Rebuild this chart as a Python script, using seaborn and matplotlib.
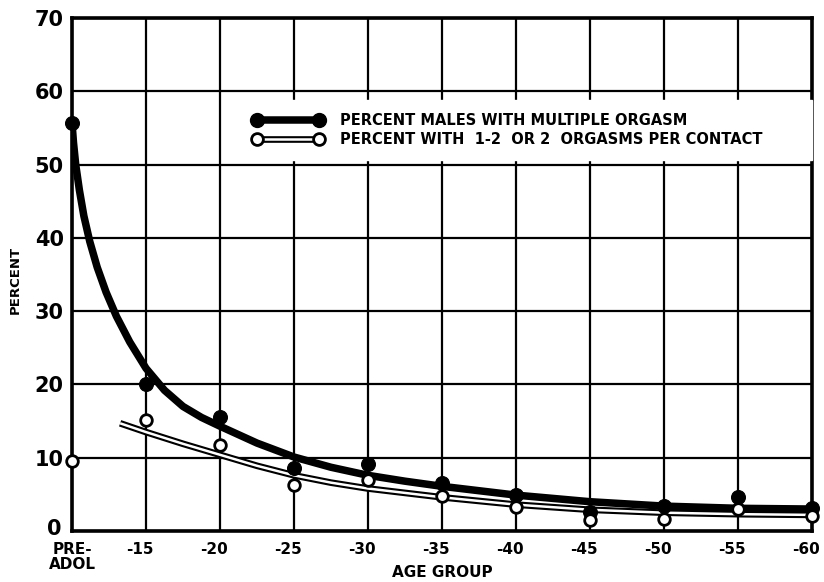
import matplotlib
matplotlib.use('Agg')
import matplotlib.pyplot as plt
import matplotlib.transforms as mtransforms
import seaborn as sns
import pandas as pd
from matplotlib.lines import Line2D
from matplotlib.legend_handler import HandlerTuple

# categories along the x axis
age_groups = ['PRE-\nADOL', '-15', '-20', '-25', '-30', '-35',
              '-40', '-45', '-50', '-55', '-60']

# plotted points
multiple_pct = [55.7, 20.0, 15.5, 8.6, 9.1, 6.6, 4.9, 2.6, 3.4, 4.6, 3.1]
one_two_pct = [9.5, 15.1, 11.7, 6.3, 7.0, 4.8, 3.3, 1.5, 1.7, 3.0, 2.0]

# hand drawn smoothing curves (position in age-group steps)
multiple_curve_x = [0, 0.02, 0.05, 0.1, 0.16, 0.24, 0.34, 0.46, 0.6, 0.78, 1.0,
                    1.25, 1.5, 1.75, 2.0, 2.5, 3.0, 3.5, 4.0, 4.5, 5, 6, 7, 8, 9, 10]
multiple_curve_y = [55.7, 53, 50, 46.5, 43, 39.5, 36, 32.6, 29.3, 25.8, 22.2,
                    19.2, 17.0, 15.5, 14.3, 12.0, 10.1, 8.7, 7.6, 6.8, 6.1,
                    4.9, 4.0, 3.4, 3.1, 3.0]
one_two_curve_x = [0.65, 1, 1.5, 2, 2.5, 3, 3.5, 4, 4.5, 5, 6, 7, 8, 9, 10]
one_two_curve_y = [14.7, 13.5, 11.9, 10.4, 8.9, 7.6, 6.6, 5.8, 5.2, 4.6, 3.6,
                   2.9, 2.5, 2.3, 2.2]

legend_labels = ['PERCENT MALES WITH MULTIPLE ORGASM',
                 'PERCENT WITH  1-2  OR 2  ORGASMS PER CONTACT']

sns.set_style('white')
plt.rcParams['font.family'] = ['DejaVu Sans']
plt.rcParams['font.weight'] = 'bold'
plt.rcParams['text.color'] = 'black'
plt.rcParams['axes.labelcolor'] = 'black'
plt.rcParams['xtick.color'] = 'black'
plt.rcParams['ytick.color'] = 'black'

points = pd.DataFrame({
    'pos': list(range(len(age_groups))),
    'multiple': multiple_pct,
    'one_two': one_two_pct,
})

fig = plt.figure(figsize=(8.24, 5.82), dpi=100)
ax = fig.add_axes([0.0874, 0.0876, 0.898, 0.8814])

# curves
sns.lineplot(x=multiple_curve_x, y=multiple_curve_y, sort=False, estimator=None,
             color='black', lw=5.4, ax=ax, zorder=3, solid_capstyle='round',
             solid_joinstyle='round')
sns.lineplot(x=one_two_curve_x, y=one_two_curve_y, sort=False, estimator=None,
             color='black', lw=4.8, ax=ax, zorder=3, solid_capstyle='butt',
             solid_joinstyle='round')
sns.lineplot(x=one_two_curve_x, y=one_two_curve_y, sort=False, estimator=None,
             color='white', lw=1.8, ax=ax, zorder=3.1, solid_capstyle='butt',
             solid_joinstyle='round')

# points
sns.scatterplot(data=points, x='pos', y='multiple', color='black', s=100,
                edgecolor='black', ax=ax, zorder=4, clip_on=False)
sns.scatterplot(data=points, x='pos', y='one_two', color='white', s=70,
                edgecolor='black', linewidth=2, ax=ax, zorder=4.5, clip_on=False)

ax.set_xlim(0, len(age_groups) - 1)
ax.set_ylim(0, 70)
ax.set_xticks(range(len(age_groups)))
ax.set_xticklabels(age_groups, fontsize=11, fontweight='bold', linespacing=1.0)
ax.set_yticks(range(0, 71, 10))
ax.set_yticklabels([str(v) for v in range(0, 71, 10)], fontsize=15, fontweight='bold')
ax.tick_params(axis='both', length=0)
ax.tick_params(axis='x', pad=8)
ax.tick_params(axis='y', pad=6)

# number labels sit a little left of their grid line in the original
shift_left = mtransforms.ScaledTranslation(-6 / 100, 0, fig.dpi_scale_trans)
for lab in ax.get_xticklabels()[1:]:
    lab.set_transform(lab.get_transform() + shift_left)
shift_up = mtransforms.ScaledTranslation(-2 / 100, 4 / 100, fig.dpi_scale_trans)
zero_lab = ax.get_yticklabels()[0]
zero_lab.set_transform(zero_lab.get_transform() + shift_up)

ax.grid(True, color='black', lw=1.6)
ax.set_axisbelow(True)
for sp in ax.spines.values():
    sp.set_color('black')
    sp.set_linewidth(2.6)

ax.set_xlabel('AGE GROUP', fontsize=11, fontweight='bold')
ax.set_ylabel('PERCENT', fontsize=9.5, fontweight='bold')
ax.xaxis.set_label_coords(0.5, -0.066)
ax.yaxis.set_label_coords(-0.068, 0.49)

filled = Line2D([], [], color='black', lw=5.4, marker='o', ms=10)
outer = Line2D([], [], color='black', lw=4.8)
inner = Line2D([], [], color='white', lw=1.8, marker='o', ms=8.5,
               mfc='white', mec='black', mew=2)
leg = ax.legend([filled, (outer, inner)], legend_labels,
                handler_map={tuple: HandlerTuple(ndivide=1)},
                numpoints=2, loc='center left',
                bbox_to_anchor=(0.227, 0.727, 0.773, 0.109), mode='expand',
                frameon=True, fancybox=False, facecolor='white', edgecolor='white',
                framealpha=1, borderpad=0.9, handlelength=4.8, handletextpad=1.15,
                labelspacing=0.25, prop={'size': 10.5, 'weight': 'bold'},
                borderaxespad=0)
leg.set_zorder(6)

fig.savefig('out.png', dpi=100)
